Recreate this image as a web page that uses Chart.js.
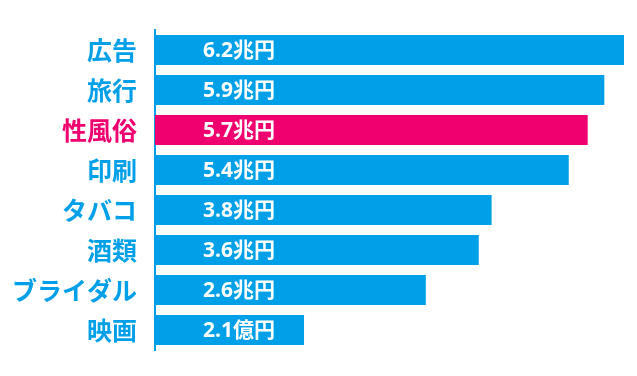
<!DOCTYPE html>
<html>
<head>
<meta charset="utf-8">
<script src="https://cdn.jsdelivr.net/npm/chart.js@4/dist/chart.umd.min.js"></script>
<style>
  html, body { margin: 0; padding: 0; background: #fff; }
  #wrap { width: 637px; height: 376px; }
</style>
</head>
<body>
<div id="wrap"><canvas id="marketChart"></canvas></div>
<script>
// 業界ごとの市場規模
const categories = ['広告', '旅行', '性風俗', '印刷', 'タバコ', '酒類', 'ブライダル', '映画'];
// 棒の長さ (画像から読み取り、広告=6.2 基準)
const barLengths = [6.2, 5.94, 5.72, 5.47, 4.45, 4.28, 3.58, 1.97];
// 棒の中に書かれた金額
const valueLabels = ['6.2兆円', '5.9兆円', '5.7兆円', '5.4兆円', '3.8兆円', '3.6兆円', '2.6兆円', '2.1億円'];
const highlightIndex = 2;

const BLUE = '#00a0e9';
const PINK = '#f0006e';

// 棒の中に金額を書くプラグイン
const valueLabelPlugin = {
    id: 'valueLabels',
    afterDatasetsDraw(chart) {
        const ctx = chart.ctx;
        const meta = chart.getDatasetMeta(0);
        ctx.save();
        ctx.fillStyle = '#fff';
        ctx.font = 'bold 21px "Open Sans", "Noto Sans CJK JP", sans-serif';
        ctx.textAlign = 'left';
        ctx.textBaseline = 'middle';
        meta.data.forEach((bar, i) => {
            ctx.fillText(valueLabels[i], bar.base + 48, bar.y + 1);
        });
        ctx.restore();
    }
};

const ctx = document.getElementById('marketChart').getContext('2d');
new Chart(ctx, {
    type: 'bar',
    data: {
        labels: categories,
        datasets: [{
            data: barLengths,
            backgroundColor: categories.map((c, i) => i === highlightIndex ? PINK : BLUE),
            borderWidth: 0,
            barPercentage: 0.75,
            categoryPercentage: 1
        }]
    },
    options: {
        indexAxis: 'y',
        responsive: true,
        maintainAspectRatio: false,
        animation: false,
        layout: {
            autoPadding: false,
            padding: { top: 30, bottom: 26, right: 13, left: 0 }
        },
        plugins: {
            legend: { display: false },
            tooltip: { enabled: false }
        },
        scales: {
            x: {
                display: false,
                min: 0,
                max: 6.2
            },
            y: {
                afterFit(scale) {
                    scale.width = 155;
                    // ラベルの余白で棒の範囲が縮まないようにする
                    scale.paddingTop = 0;
                    scale.paddingBottom = 0;
                },
                grid: { display: false, drawTicks: false },
                border: { display: true, color: BLUE, width: 2 },
                ticks: {
                    padding: 18,
                    font: { family: '"Noto Sans CJK JP", sans-serif', size: 25, weight: 'bold' },
                    color: (c) => c.index === highlightIndex ? PINK : BLUE
                }
            }
        }
    },
    plugins: [valueLabelPlugin]
});
</script>
</body>
</html>
